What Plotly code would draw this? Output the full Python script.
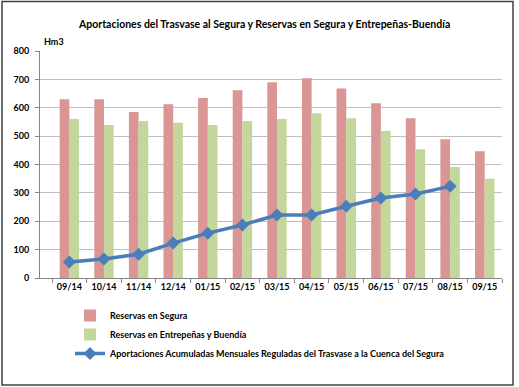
import plotly.graph_objects as go

months = ["09/14", "10/14", "11/14", "12/14", "01/15", "02/15", "03/15",
          "04/15", "05/15", "06/15", "07/15", "08/15", "09/15"]
segura = [630, 630, 585, 612, 634, 662, 690, 704, 668, 616, 563, 489, 447]
entrepenas = [560, 539, 553, 547, 539, 553, 560, 581, 563, 518, 454, 391, 350]
aportaciones = [56, 67, 84, 123, 158, 187, 222, 222, 253, 282, 296, 323]

FONT = "Lato"
W, H = 519, 387
L, R, T, B = 40, 17, 51, 109
pw, ph = W - L - R, H - T - B

def px_x(p):
    return (p - L) / pw

def px_y(p):
    return (H - B - p) / ph

fig = go.Figure()
fig.add_trace(go.Bar(x=months, y=segura, name="Reservas en Segura",
                     marker=dict(color="#D99694", line=dict(width=0))))
fig.add_trace(go.Bar(x=months, y=entrepenas, name="Reservas en Entrepeñas y Buendía",
                     marker=dict(color="#C3D69B", line=dict(width=0))))
fig.add_trace(go.Scatter(x=months[:len(aportaciones)], y=aportaciones,
                         name="Aportaciones Acumuladas Mensuales Reguladas del Trasvase a la Cuenca del Segura",
                         mode="lines+markers",
                         line=dict(color="#4A7EBB", width=3.5),
                         marker=dict(symbol="diamond", size=10, color="#4A7EBB")))

fig.update_layout(
    width=W, height=H,
    margin=dict(l=L, r=R, t=T, b=B),
    paper_bgcolor="white", plot_bgcolor="white",
    barmode="group", bargap=0.44, bargroupgap=0,
    font=dict(family=FONT, size=9, color="#000000"),
    showlegend=True,
    legend=dict(x=px_x(70), y=px_y(301), xanchor="left", yanchor="top",
                font=dict(family=FONT, size=9, color="#000000", weight="bold"),
                traceorder="normal", tracegroupgap=6, itemwidth=30,
                bgcolor="rgba(0,0,0,0)"),
    xaxis=dict(type="category", showgrid=False, showline=True, linecolor="#868686",
               linewidth=1, ticks="outside", ticklen=4, tickcolor="#868686",
               tickson="boundaries",
               tickfont=dict(family=FONT, size=9, color="#000000", weight="bold")),
    yaxis=dict(range=[0, 800], dtick=100, showgrid=True, gridcolor="#BFBFBF",
               gridwidth=1, showline=True, linecolor="#868686", linewidth=1,
               ticks="outside", ticklen=4, tickcolor="#868686", zeroline=False,
               ticklabelstandoff=4,
               tickfont=dict(family=FONT, size=9, color="#000000", weight="bold")),
    shapes=[dict(type="rect", xref="paper", yref="paper",
                 x0=px_x(2), x1=px_x(513), y0=px_y(385), y1=px_y(1.5),
                 line=dict(color="#404040", width=1.5), fillcolor="rgba(0,0,0,0)",
                 layer="below")],
    annotations=[
        dict(text="Aportaciones del Trasvase al Segura y Reservas en Segura y Entrepeñas-Buendía",
             xref="paper", yref="paper", x=px_x(264), y=px_y(24),
             xanchor="center", yanchor="middle", showarrow=False,
             font=dict(family=FONT, size=10.5, color="#000000", weight="bold")),
        dict(text="Hm3", xref="paper", yref="paper", x=px_x(42), y=px_y(42),
             xanchor="left", yanchor="middle", showarrow=False,
             font=dict(family=FONT, size=9, color="#000000", weight="bold")),
    ],
)

fig.write_html("out.html", config={"displayModeBar": False},
               post_script="document.body.style.margin='0';document.body.style.overflow='hidden';")
